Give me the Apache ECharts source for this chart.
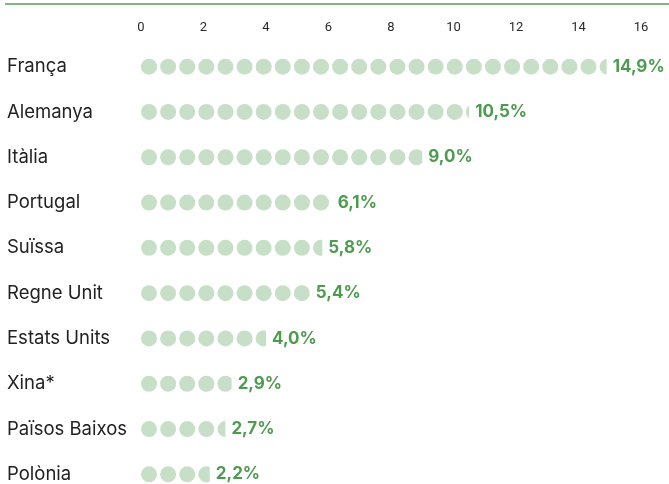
<!DOCTYPE html>
<html>
<head>
<meta charset="utf-8">
<script src="https://cdn.jsdelivr.net/npm/echarts@6/dist/echarts.min.js"></script>
<style>
  html, body { margin: 0; padding: 0; background: #fff; }
  #chart { width: 669px; height: 484px; }
</style>
</head>
<body>
<div id="chart"></div>
<script>
const countries = ['França', 'Alemanya', 'Itàlia', 'Portugal', 'Suïssa', 'Regne Unit', 'Estats Units', 'Xina*', 'Països Baixos', 'Polònia']
const shares = [14.9, 10.5, 9.0, 6.1, 5.8, 5.4, 4.0, 2.9, 2.7, 2.2]
const axisMin = 0
const axisMax = 16
const axisStep = 2

const chart = echarts.init(document.getElementById('chart'))

const option = {
  animation: false,
  grid: { left: 141, right: 28, top: 44, height: 453, outerBoundsMode: 'none' },
  graphic: [
    {
      type: 'line',
      shape: { x1: 5, y1: 4, x2: 669, y2: 4 },
      style: { stroke: '#82b584', lineWidth: 2 }
    }
  ],
  xAxis: {
    type: 'value',
    position: 'top',
    min: axisMin,
    max: axisMax,
    interval: axisStep,
    axisLine: { show: false },
    axisTick: { show: false },
    splitLine: { show: false },
    axisLabel: {
      color: '#2a2a2a',
      fontSize: 13,
      fontFamily: 'Roboto',
      margin: 10
    }
  },
  yAxis: {
    type: 'category',
    data: countries,
    inverse: true,
    axisLine: { show: false },
    axisTick: { show: false },
    axisLabel: {
      align: 'left',
      margin: 134,
      color: '#222',
      fontSize: 18.5,
      fontFamily: 'Inter',
      padding: [0, 0, 6, 0]
    }
  },
  series: [
    {
      // dots, clipped at the value
      type: 'pictorialBar',
      data: shares,
      symbol: 'circle',
      symbolSize: [16, 16],
      symbolRepeat: true,
      symbolMargin: 1.75,
      symbolClip: true,
      symbolBoundingData: 15.8,
      itemStyle: { color: '#c6dfc6' },
      z: 2
    },
    {
      // invisible bar just to carry the value labels
      type: 'bar',
      data: shares,
      barWidth: 16,
      silent: true,
      itemStyle: { color: 'rgba(0,0,0,0)' },
      label: {
        show: true,
        position: 'right',
        distance: 6,
        color: '#4d9b4f',
        fontSize: 17,
        fontWeight: 'bold',
        fontFamily: 'Inter',
        formatter: p => p.value.toFixed(1).replace('.', ',') + '%'
      },
      z: 3
    }
  ]
}

chart.setOption(option)
</script>
</body>
</html>
